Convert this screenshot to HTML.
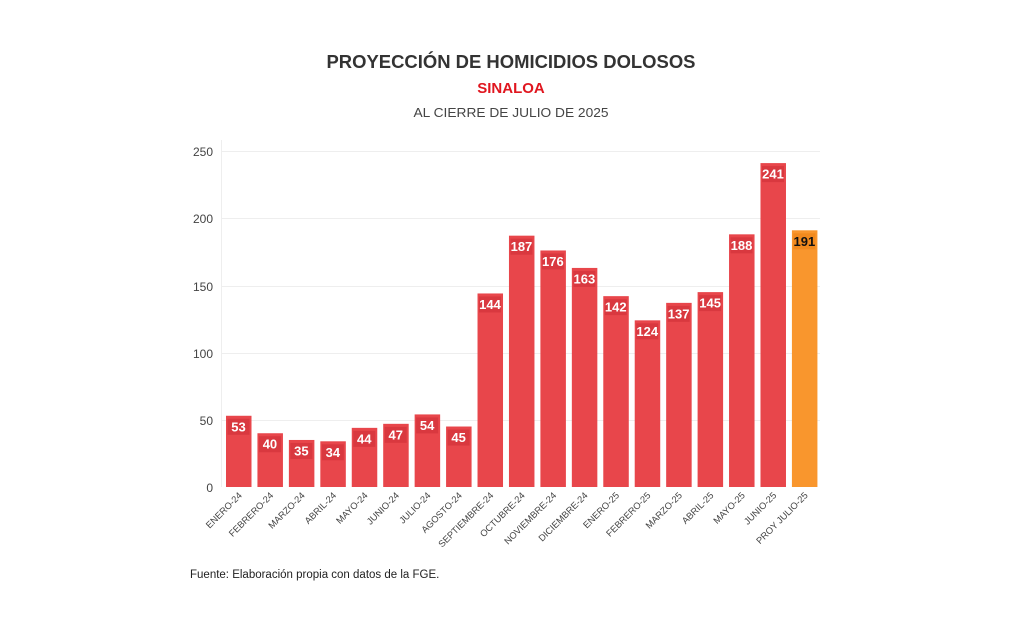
<!DOCTYPE html>
<html><head><meta charset="utf-8"><style>
html,body{margin:0;padding:0;background:#fff;}
svg{display:block;font-family:"Liberation Sans",sans-serif;}
.b{fill:#e8464b}.o{fill:#f9962d}.bb{fill:#d9383f}.ob{fill:#f28a1e}
.v{font-size:13px;font-weight:bold;fill:#fff;text-anchor:middle}
.l{font-size:9.3px;fill:#444;text-anchor:end}
</style></head><body>
<svg width="1023" height="630" viewBox="0 0 1023 630" xmlns="http://www.w3.org/2000/svg">
<rect width="1023" height="630" fill="#fff"/>
<text x="511" y="68" text-anchor="middle" font-size="18" font-weight="bold" fill="#333" textLength="369" lengthAdjust="spacingAndGlyphs">PROYECCIÓN DE HOMICIDIOS DOLOSOS</text>
<text x="511" y="93" text-anchor="middle" font-size="15" font-weight="bold" fill="#e0161f">SINALOA</text>
<text x="511" y="117" text-anchor="middle" font-size="13" fill="#444" textLength="195" lengthAdjust="spacingAndGlyphs">AL CIERRE DE JULIO DE 2025</text>
<g stroke="#eeeeee" stroke-width="1">
<line x1="221" y1="151.5" x2="820" y2="151.5"/>
<line x1="221" y1="218.5" x2="820" y2="218.5"/>
<line x1="221" y1="286.5" x2="820" y2="286.5"/>
<line x1="221" y1="353.5" x2="820" y2="353.5"/>
<line x1="221" y1="420.5" x2="820" y2="420.5"/>
<line x1="221.5" y1="140" x2="221.5" y2="487"/>
</g>
<g font-size="12" fill="#444" text-anchor="end">
<text x="213" y="156">250</text>
<text x="213" y="223">200</text>
<text x="213" y="291">150</text>
<text x="213" y="358">100</text>
<text x="213" y="425">50</text>
<text x="213" y="492">0</text>
</g>

<g transform="translate(226,0)"><rect class="b" y="415.77" width="25.5" height="71.23"/><rect class="bb" x="1.5" y="418.77" width="22" height="16"/><text class="v" x="12.5" y="431.27">53</text><text class="l" transform="translate(16.5,496) rotate(-45)">ENERO-24</text></g>
<g transform="translate(257.44,0)"><rect class="b" y="433.24" width="25.5" height="53.76"/><rect class="bb" x="1.5" y="436.24" width="22" height="16"/><text class="v" x="12.5" y="448.74">40</text><text class="l" transform="translate(16.5,496) rotate(-45)">FEBRERO-24</text></g>
<g transform="translate(288.88,0)"><rect class="b" y="439.96" width="25.5" height="47.04"/><rect class="bb" x="1.5" y="442.96" width="22" height="16"/><text class="v" x="12.5" y="455.46">35</text><text class="l" transform="translate(16.5,496) rotate(-45)">MARZO-24</text></g>
<g transform="translate(320.32,0)"><rect class="b" y="441.3" width="25.5" height="45.7"/><rect class="bb" x="1.5" y="444.3" width="22" height="16"/><text class="v" x="12.5" y="456.8">34</text><text class="l" transform="translate(16.5,496) rotate(-45)">ABRIL-24</text></g>
<g transform="translate(351.76,0)"><rect class="b" y="427.86" width="25.5" height="59.14"/><rect class="bb" x="1.5" y="430.86" width="22" height="16"/><text class="v" x="12.5" y="443.36">44</text><text class="l" transform="translate(16.5,496) rotate(-45)">MAYO-24</text></g>
<g transform="translate(383.2,0)"><rect class="b" y="423.83" width="25.5" height="63.17"/><rect class="bb" x="1.5" y="426.83" width="22" height="16"/><text class="v" x="12.5" y="439.33">47</text><text class="l" transform="translate(16.5,496) rotate(-45)">JUNIO-24</text></g>
<g transform="translate(414.64,0)"><rect class="b" y="414.42" width="25.5" height="72.58"/><rect class="bb" x="1.5" y="417.42" width="22" height="16"/><text class="v" x="12.5" y="429.92">54</text><text class="l" transform="translate(16.5,496) rotate(-45)">JULIO-24</text></g>
<g transform="translate(446.08,0)"><rect class="b" y="426.52" width="25.5" height="60.48"/><rect class="bb" x="1.5" y="429.52" width="22" height="16"/><text class="v" x="12.5" y="442.02">45</text><text class="l" transform="translate(16.5,496) rotate(-45)">AGOSTO-24</text></g>
<g transform="translate(477.52,0)"><rect class="b" y="293.46" width="25.5" height="193.54"/><rect class="bb" x="1.5" y="296.46" width="22" height="16"/><text class="v" x="12.5" y="308.96">144</text><text class="l" transform="translate(16.5,496) rotate(-45)">SEPTIEMBRE-24</text></g>
<g transform="translate(508.96,0)"><rect class="b" y="235.67" width="25.5" height="251.33"/><rect class="bb" x="1.5" y="238.67" width="22" height="16"/><text class="v" x="12.5" y="251.17">187</text><text class="l" transform="translate(16.5,496) rotate(-45)">OCTUBRE-24</text></g>
<g transform="translate(540.4,0)"><rect class="b" y="250.46" width="25.5" height="236.54"/><rect class="bb" x="1.5" y="253.46" width="22" height="16"/><text class="v" x="12.5" y="265.96">176</text><text class="l" transform="translate(16.5,496) rotate(-45)">NOVIEMBRE-24</text></g>
<g transform="translate(571.84,0)"><rect class="b" y="267.93" width="25.5" height="219.07"/><rect class="bb" x="1.5" y="270.93" width="22" height="16"/><text class="v" x="12.5" y="283.43">163</text><text class="l" transform="translate(16.5,496) rotate(-45)">DICIEMBRE-24</text></g>
<g transform="translate(603.28,0)"><rect class="b" y="296.15" width="25.5" height="190.85"/><rect class="bb" x="1.5" y="299.15" width="22" height="16"/><text class="v" x="12.5" y="311.65">142</text><text class="l" transform="translate(16.5,496) rotate(-45)">ENERO-25</text></g>
<g transform="translate(634.72,0)"><rect class="b" y="320.34" width="25.5" height="166.66"/><rect class="bb" x="1.5" y="323.34" width="22" height="16"/><text class="v" x="12.5" y="335.84">124</text><text class="l" transform="translate(16.5,496) rotate(-45)">FEBRERO-25</text></g>
<g transform="translate(666.16,0)"><rect class="b" y="302.87" width="25.5" height="184.13"/><rect class="bb" x="1.5" y="305.87" width="22" height="16"/><text class="v" x="12.5" y="318.37">137</text><text class="l" transform="translate(16.5,496) rotate(-45)">MARZO-25</text></g>
<g transform="translate(697.6,0)"><rect class="b" y="292.12" width="25.5" height="194.88"/><rect class="bb" x="1.5" y="295.12" width="22" height="16"/><text class="v" x="12.5" y="307.62">145</text><text class="l" transform="translate(16.5,496) rotate(-45)">ABRIL-25</text></g>
<g transform="translate(729.04,0)"><rect class="b" y="234.33" width="25.5" height="252.67"/><rect class="bb" x="1.5" y="237.33" width="22" height="16"/><text class="v" x="12.5" y="249.83">188</text><text class="l" transform="translate(16.5,496) rotate(-45)">MAYO-25</text></g>
<g transform="translate(760.48,0)"><rect class="b" y="163.1" width="25.5" height="323.9"/><rect class="bb" x="1.5" y="166.1" width="22" height="16"/><text class="v" x="12.5" y="178.6">241</text><text class="l" transform="translate(16.5,496) rotate(-45)">JUNIO-25</text></g>
<g transform="translate(791.92,0)"><rect class="o" y="230.3" width="25.5" height="256.7"/><rect class="ob" x="1.5" y="233.3" width="22" height="16"/><text class="v" x="12.5" y="245.8" style="fill:#111">191</text><text class="l" transform="translate(16.5,496) rotate(-45)">PROY JULIO-25</text></g>

<text x="190" y="578" font-size="11.5" fill="#222">Fuente: Elaboración propia con datos de la FGE.</text>
</svg>
</body></html>
